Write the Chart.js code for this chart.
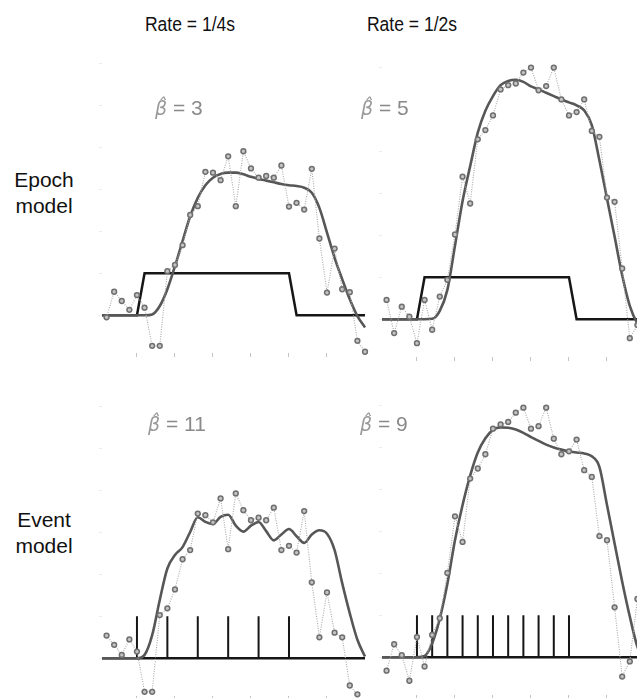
<!DOCTYPE html>
<html>
<head>
<meta charset="utf-8">
<script src="https://cdn.jsdelivr.net/npm/chart.js@4.4.0/dist/chart.umd.min.js"></script>
<style>
  body { margin: 0; width: 637px; height: 698px; overflow: hidden; position: relative; background: #fff;
         font-family: "Liberation Sans", Arial, sans-serif; }
  canvas { position: absolute; }
  .lbl { position: absolute; white-space: nowrap; color: #111; }
  .rate { font-size: 20.5px; line-height: 20px; width: 200px; text-align: center; transform: scaleX(0.855); }
  .row { font-size: 21px; line-height: 26px; width: 88px; text-align: center; left: 0; }
  .beta { font-size: 21px; line-height: 21px; color: #8a8a8a; }
  .beta i { font-family: "DejaVu Sans", sans-serif; font-size: 19px; color: #9a9a9a; }
</style>
</head>
<body>

<div class="lbl rate" style="left:90px; top:14px">Rate = 1/4s</div>
<div class="lbl rate" style="left:312px; top:14px">Rate = 1/2s</div>
<div class="lbl row" style="top:167px">Epoch<br>model</div>
<div class="lbl row" style="top:507px">Event<br>model</div>

<script>
'use strict';

// time axis (s), 0 = stimulus onset, one sample per second
const sampleTimes = [-4, -3, -2, -1, 0, 1, 2, 3, 4, 5, 6, 7, 8, 9, 10, 11, 12, 13, 14, 15, 16, 17,
  18, 19, 20, 21, 22, 23, 24, 25, 26, 27, 28, 29, 30];
const fitTimes = [-4.6, -4, -3, -2, -1, 0, 1, 2, 3, 4, 5, 6, 7, 8, 9, 10, 11, 12, 13, 14, 15, 16, 17,
  18, 19, 20, 21, 22, 23, 24, 25, 26, 27, 28, 29, 30];
const tickTimes = [0, 5, 10, 15, 20, 25];
const yTicks = [0, 1, 2, 3, 4, 5, 6];

// stimulus: 20 s epoch, or events every 4 s / 2 s
const epochTimes = [-4.6, 0, 1, 20, 21, 30];
const epochLevels = [0, 0, 1, 1, 0, 0];
const eventTimesFast = [0, 4, 8, 12, 16, 20];
const eventTimesSlow = [0, 2, 4, 6, 8, 10, 12, 14, 16, 18, 20];

// measured signal (dotted grey, circles)
const epochFastData = [-0.05, 0.56, 0.34, 0.13, 0.48, 0.18, -0.73, -0.73, 1.05, 1.20, 1.67, 2.39,
  2.60, 3.42, 3.40, 3.22, 3.79, 2.60, 3.91, 3.50, 3.28, 3.32, 3.28, 3.57, 2.59, 2.68, 2.52, 3.49,
  1.83, 0.54, 1.59, 0.62, 0.55, -0.61, -0.87];
const epochSlowData = [0.46, -0.33, 0.30, 0.06, -0.57, 0.46, -0.25, 0.54, 0.94, 2.02, 3.40, 2.76,
  4.29, 4.51, 4.86, 5.48, 5.58, 5.62, 5.88, 6.00, 5.46, 5.56, 6.00, 5.24, 4.86, 4.94, 5.24, 4.49,
  4.35, 2.90, 2.80, 1.21, -0.45, -0.14, 1.39];
const eventFastData = [0.54, 0.32, 0.08, 0.45, 0.16, -0.80, -0.80, 1.03, 1.19, 1.64, 2.36, 2.58,
  3.45, 3.41, 3.24, 3.81, 2.60, 3.93, 3.53, 3.29, 3.35, 3.29, 3.59, 2.58, 2.68, 2.52, 3.51, 1.81,
  0.50, 1.57, 0.61, 0.50, -0.65, -0.86];
const eventSlowData = [-0.32, 0.31, 0.05, -0.56, 0.48, -0.22, 0.53, 0.93, 2.01, 3.36, 2.75, 4.26,
  4.50, 4.84, 5.45, 5.55, 5.61, 5.83, 5.95, 5.45, 5.51, 5.95, 5.21, 4.84, 4.91, 5.19, 4.46, 4.30,
  2.89, 2.79, 1.19, -0.46, -0.10, 1.39];

// model fits (solid dark grey)
const epochFastFit = [0, 0, 0, 0, 0, 0, 0, 0.02, 0.22, 0.62, 1.17, 1.77, 2.36, 2.80, 3.10, 3.28,
  3.37, 3.40, 3.40, 3.36, 3.30, 3.25, 3.21, 3.17, 3.13, 3.10, 3.08, 3.04, 2.92, 2.56, 1.97, 1.37,
  0.86, 0.38, -0.02, -0.29];
const epochSlowFit = [0, 0, 0, 0, 0, 0, 0, 0.01, 0.20, 0.70, 1.75, 2.82, 3.65, 4.45, 4.97, 5.32,
  5.58, 5.68, 5.71, 5.66, 5.55, 5.48, 5.40, 5.32, 5.24, 5.17, 5.10, 4.98, 4.63, 3.79, 2.88, 1.97,
  1.05, 0.32, -0.10, -0.30];
const eventFastFit = [0, 0, 0, 0, 0, 0, 0.08, 0.55, 1.39, 2.14, 2.46, 2.65, 3.01, 3.36, 3.25, 3.20,
  3.37, 3.42, 3.16, 3.02, 3.16, 3.25, 3.03, 2.81, 2.95, 3.08, 2.91, 2.75, 2.95, 3.05, 2.97, 2.58,
  1.79, 1.07, 0.44, 0.04];
const eventSlowFit = [0, 0, 0, 0, 0, 0, 0.03, 0.33, 0.92, 1.75, 2.79, 3.63, 4.33, 4.88, 5.22, 5.42,
  5.48, 5.47, 5.43, 5.35, 5.25, 5.16, 5.07, 5.00, 4.95, 4.91, 4.88, 4.86, 4.79, 4.54, 3.63, 2.71,
  1.80, 0.97, 0.25, -0.10];

const betaLabels = ['3', '5', '11', '9'];

// scale ranges shared by all panels
const xMin = -4.6, xMax = 30;
const yMin = -0.9, yMax = 6.3;

const toXY = (xs, ys) => ys.map((y, i) => ({ x: xs[i], y: y }));

// vertical sticks for the event model, gaps between them
const sticks = (times) => {
  const out = [];
  for (const t of times) {
    out.push({ x: t, y: 0 }, { x: t, y: 1 }, { x: t, y: null });
  }
  return out;
};

const pointsSet = (values) => ({
  data: toXY(sampleTimes, values),
  showLine: true,
  borderColor: '#a9a9a9',
  borderWidth: 1.1,
  borderDash: [1, 1.4],
  tension: 0,
  pointRadius: 2.4,
  pointBorderWidth: 1.5,
  pointBorderColor: '#6f6f6f',
  pointBackgroundColor: '#c4c4c4',
  clip: false
});

const fitSet = (values) => ({
  data: toXY(fitTimes, values),
  borderColor: '#575757',
  borderWidth: 2.6,
  pointRadius: 0,
  cubicInterpolationMode: 'monotone',
  clip: false
});

const stimSet = (data, width) => ({
  data: data,
  borderColor: '#161616',
  borderWidth: width,
  pointRadius: 0,
  tension: 0,
  spanGaps: false,
  clip: false
});

// one chart per panel; left/top = canvas corner
function makePanel(left, top, datasets) {
  const cv = document.createElement('canvas');
  cv.width = 283;
  cv.height = 322;
  cv.style.left = left + 'px';
  cv.style.top = top + 'px';
  document.body.appendChild(cv);
  new Chart(cv, {
    type: 'line',
    data: { datasets: datasets },
    options: {
      responsive: false,
      animation: false,
      layout: { padding: { left: 6, right: 10, top: 10, bottom: 5 } },
      plugins: { legend: { display: false }, tooltip: { enabled: false } },
      scales: {
        x: {
          type: 'linear', min: xMin, max: xMax,
          border: { display: false },
          grid: { drawOnChartArea: false, tickLength: 4, tickColor: '#c4c4c4' },
          ticks: { display: false },
          afterBuildTicks: (s) => { s.ticks = tickTimes.map(v => ({ value: v })); },
          afterFit: (s) => { s.height = 5; }
        },
        y: {
          min: yMin, max: yMax,
          border: { display: false },
          grid: { drawOnChartArea: false, tickLength: 3, tickColor: '#ececec' },
          ticks: { display: false },
          afterBuildTicks: (s) => { s.ticks = yTicks.map(v => ({ value: v })); },
          afterFit: (s) => { s.width = 4; }
        }
      }
    }
  });
}

const epochStim = toXY(epochTimes, epochLevels);
const baseLine = toXY([xMin, xMax], [0, 0]);

makePanel(92, 41, [pointsSet(epochFastData), fitSet(epochFastFit), stimSet(epochStim, 2.5)]);
makePanel(372, 45, [pointsSet(epochSlowData), fitSet(epochSlowFit), stimSet(epochStim, 2.5)]);
makePanel(92, 384, [pointsSet(eventFastData), fitSet(eventFastFit),
  stimSet(sticks(eventTimesFast), 2), stimSet(baseLine, 2.5)]);
makePanel(372, 383, [pointsSet(eventSlowData), fitSet(eventSlowFit),
  stimSet(sticks(eventTimesSlow), 2), stimSet(baseLine, 2.5)]);

// beta estimates above each panel
const betaPos = [[155, 97], [361, 97], [148, 413], [360, 413]];
betaLabels.forEach((b, i) => {
  const d = document.createElement('div');
  d.className = 'lbl beta';
  d.style.left = betaPos[i][0] + 'px';
  d.style.top = betaPos[i][1] + 'px';
  d.innerHTML = '<i>\u03B2\u0302</i> = ' + b;
  document.body.appendChild(d);
});
</script>
</body>
</html>
